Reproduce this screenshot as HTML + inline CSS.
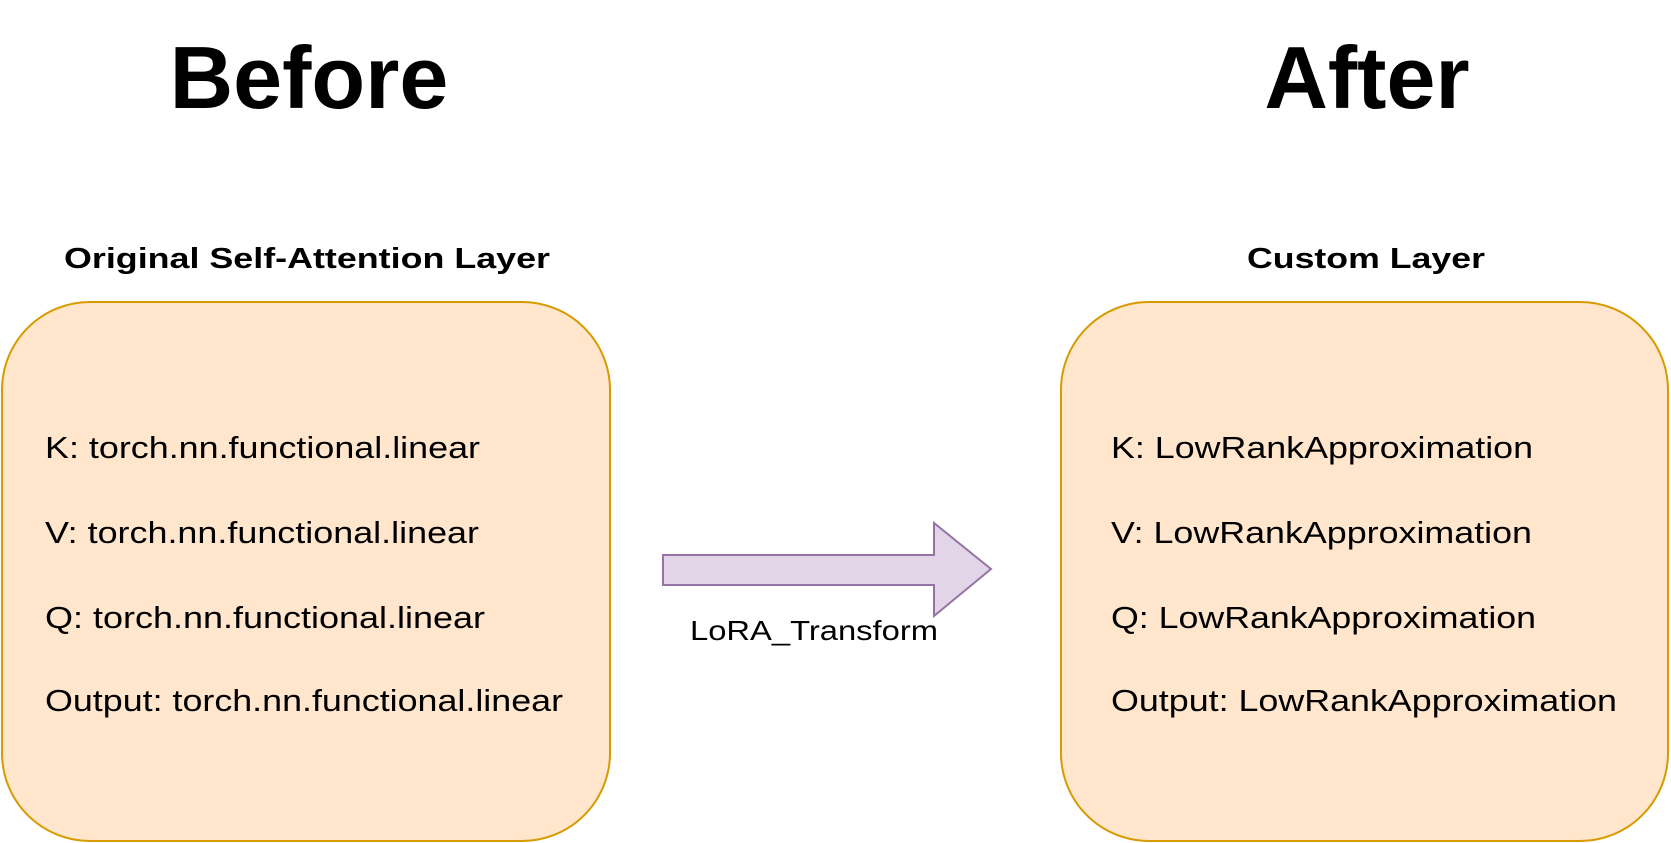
<!DOCTYPE html>
<html><head><meta charset="utf-8"><style>
html,body{margin:0;padding:0;background:#fff;}
svg{display:block;}
</style></head><body>
<svg width="1671" height="843" viewBox="0 0 1671 843" xmlns="http://www.w3.org/2000/svg" font-family="Liberation Sans, Arial, sans-serif">
<text x="309" y="108" font-size="88" font-weight="bold" text-anchor="middle">Before</text>
<text x="1367" y="108" font-size="88" font-weight="bold" text-anchor="middle">After</text>
<text x="64" y="268" font-size="29" font-weight="bold" textLength="486" lengthAdjust="spacingAndGlyphs">Original Self-Attention Layer</text>
<text x="1247" y="268" font-size="29" font-weight="bold" textLength="238" lengthAdjust="spacingAndGlyphs">Custom Layer</text>
<rect x="2" y="302" width="608" height="539" rx="88" ry="88" fill="#ffe6cc" stroke="#d79b00" stroke-width="2"/>
<rect x="1061" y="302" width="607" height="539" rx="88" ry="88" fill="#ffe6cc" stroke="#d79b00" stroke-width="2"/>
<g font-size="31" lengthAdjust="spacingAndGlyphs">
<text x="45" y="458" textLength="435" lengthAdjust="spacingAndGlyphs">K: torch.nn.functional.linear</text>
<text x="45" y="543" textLength="434" lengthAdjust="spacingAndGlyphs">V: torch.nn.functional.linear</text>
<text x="45" y="628" textLength="440" lengthAdjust="spacingAndGlyphs">Q: torch.nn.functional.linear</text>
<text x="45" y="711" textLength="518" lengthAdjust="spacingAndGlyphs">Output: torch.nn.functional.linear</text>
<text x="1111" y="458" textLength="422" lengthAdjust="spacingAndGlyphs">K: LowRankApproximation</text>
<text x="1111" y="543" textLength="421" lengthAdjust="spacingAndGlyphs">V: LowRankApproximation</text>
<text x="1111" y="628" textLength="425" lengthAdjust="spacingAndGlyphs">Q: LowRankApproximation</text>
<text x="1111" y="711" textLength="506" lengthAdjust="spacingAndGlyphs">Output: LowRankApproximation</text>
</g>
<polygon points="663,555 934,555 934,523 991,569 934,616 934,585 663,585" fill="#e1d5e7" stroke="#9673a6" stroke-width="2"/>
<text x="690" y="640" font-size="28" textLength="248" lengthAdjust="spacingAndGlyphs">LoRA_Transform</text>
</svg>
</body></html>
